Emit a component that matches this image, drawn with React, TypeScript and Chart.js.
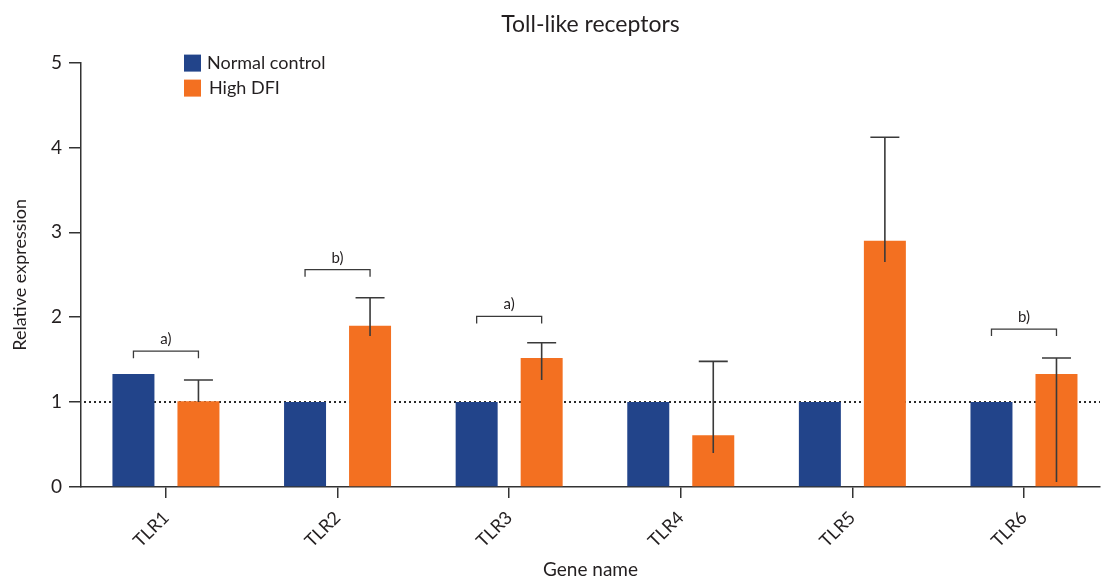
import React, { useEffect, useRef } from 'react';
import { Chart, registerables } from 'chart.js';

Chart.register(...registerables);

const CATEGORIES = ['TLR1', 'TLR2', 'TLR3', 'TLR4', 'TLR5', 'TLR6'];
const SERIES_LABELS = ['Normal control', 'High DFI'];
const NORMAL_CONTROL = [1.33, 1.0, 1.0, 1.0, 1.0, 1.0];
const HIGH_DFI = [1.01, 1.9, 1.52, 0.61, 2.9, 1.33];
const HIGH_DFI_ERR_HIGH = [1.26, 2.23, 1.7, 1.48, 4.12, 1.52];
const HIGH_DFI_ERR_LOW = [1.0, 1.78, 1.26, 0.4, 2.65, 0.06];
const SIG_CATEGORIES = ['TLR1', 'TLR2', 'TLR3', 'TLR6'];
const SIG_LEVELS = [1.6, 2.56, 2.01, 1.86];
const SIG_LABELS = ['a)', 'b)', 'a)', 'b)'];
const Y_TICKS = [0, 1, 2, 3, 4, 5];
const REFERENCE_LEVEL = 1;

const BLUE = '#22448a';
const ORANGE = '#f37021';
const INK = '#231f20';
const AXIS = '#333333';
const FONT = 'Lato';

const overlayPlugin = {
  id: 'overlay',
  beforeDatasetsDraw(chart: any) {
    const { ctx, chartArea, scales } = chart;
    const py = scales.y.getPixelForValue(REFERENCE_LEVEL);
    ctx.save();
    ctx.strokeStyle = '#2a2a2a';
    ctx.lineWidth = 2;
    ctx.setLineDash([2, 3]);
    ctx.beginPath();
    ctx.moveTo(chartArea.left + 3, py);
    ctx.lineTo(chartArea.right, py);
    ctx.stroke();
    ctx.restore();
  },
  afterDatasetsDraw(chart: any) {
    const { ctx, chartArea, scales } = chart;
    const y = scales.y;
    const m0 = chart.getDatasetMeta(0);
    const m1 = chart.getDatasetMeta(1);
    ctx.save();
    ctx.strokeStyle = '#3a3a3a';
    ctx.lineWidth = 1.6;
    m1.data.forEach((bar: any, i: number) => {
      const cx = bar.x;
      const top = y.getPixelForValue(HIGH_DFI_ERR_HIGH[i]);
      const bot = y.getPixelForValue(HIGH_DFI_ERR_LOW[i]);
      ctx.beginPath();
      ctx.moveTo(cx, bot);
      ctx.lineTo(cx, top);
      ctx.moveTo(cx - 14.5, top);
      ctx.lineTo(cx + 14.5, top);
      ctx.stroke();
    });
    ctx.lineWidth = 1.3;
    ctx.fillStyle = INK;
    ctx.font = `15px ${FONT}`;
    ctx.textAlign = 'center';
    ctx.textBaseline = 'middle';
    SIG_CATEGORIES.forEach((cat, k) => {
      const i = CATEGORIES.indexOf(cat);
      const x0 = m0.data[i].x;
      const x1 = m1.data[i].x;
      const py = y.getPixelForValue(SIG_LEVELS[k]);
      ctx.beginPath();
      ctx.moveTo(x0, py + 7);
      ctx.lineTo(x0, py);
      ctx.lineTo(x1, py);
      ctx.lineTo(x1, py + 7);
      ctx.stroke();
      ctx.fillText(SIG_LABELS[k], (x0 + x1) / 2, py - 12);
    });
    // legend
    const colors = [BLUE, ORANGE];
    ctx.font = `18px ${FONT}`;
    ctx.textAlign = 'left';
    SERIES_LABELS.forEach((label, k) => {
      const bx = chartArea.left + 103;
      const by = chartArea.top - 8 + k * 25;
      ctx.fillStyle = colors[k];
      ctx.fillRect(bx, by, 17, 17);
      ctx.fillStyle = INK;
      ctx.fillText(label, bx + 23 + k * 2, by + 9);
    });
    ctx.restore();
  },
};

export default function App() {
  const ref = useRef<HTMLCanvasElement | null>(null);
  useEffect(() => {
    if (!ref.current) return;
    const chart = new Chart(ref.current, {
      type: 'bar',
      data: {
        datasets: [
          {
            label: SERIES_LABELS[0],
            data: NORMAL_CONTROL.map((v, i) => ({ x: i + 1, y: v })),
            backgroundColor: BLUE,
          },
          {
            label: SERIES_LABELS[1],
            data: HIGH_DFI.map((v, i) => ({ x: i + 1, y: v })),
            backgroundColor: ORANGE,
          },
        ],
      },
      options: {
        responsive: false,
        animation: false,
        layout: { padding: { left: 0, right: 5, top: 0, bottom: 0 } },
        datasets: {
          bar: { categoryPercentage: 0.7576, barPercentage: 0.646 },
        },
        plugins: {
          legend: { display: false },
          tooltip: { enabled: false },
          title: {
            display: true,
            text: 'Toll-like receptors',
            fullSize: false,
            color: INK,
            font: { family: FONT, size: 23, weight: 'normal' },
            padding: { top: 11, bottom: 24 },
          },
        },
        scales: {
          x: {
            type: 'linear',
            offset: false,
            min: 0.505,
            max: 6.443,
            afterBuildTicks: (scale: any) => {
              scale.ticks = CATEGORIES.map((_, i) => ({ value: i + 1 }));
            },
            afterFit: (scale: any) => {
              scale.height = 94;
            },
            ticks: {
              autoSkip: false,
              minRotation: 45,
              maxRotation: 45,
              padding: 9,
              color: INK,
              font: { family: FONT, size: 18 },
              callback: (v: any) => CATEGORIES[Math.round(Number(v)) - 1] ?? '',
            },
            grid: {
              display: true,
              offset: false,
              drawOnChartArea: false,
              drawTicks: true,
              tickLength: 11,
              color: AXIS,
              lineWidth: 1.5,
            },
            border: { display: true, color: AXIS, width: 1.5 },
            title: {
              display: true,
              text: 'Gene name',
              color: INK,
              font: { family: FONT, size: 19 },
              padding: { top: 0, bottom: 0 },
            },
          },
          y: {
            min: 0,
            max: 5,
            afterBuildTicks: (scale: any) => {
              scale.ticks = Y_TICKS.map((v) => ({ value: v }));
            },
            afterFit: (scale: any) => {
              scale.width = 81;
            },
            ticks: {
              padding: 7,
              color: INK,
              font: { family: FONT, size: 19 },
            },
            grid: {
              display: true,
              drawOnChartArea: false,
              drawTicks: true,
              tickLength: 12,
              color: AXIS,
              lineWidth: 1.5,
            },
            border: { display: true, color: AXIS, width: 1.5 },
            title: {
              display: true,
              text: 'Relative expression',
              color: INK,
              font: { family: FONT, size: 18 },
              padding: { top: 9, bottom: 0 },
            },
          },
        },
      },
      plugins: [overlayPlugin],
    } as any);
    return () => chart.destroy();
  }, []);
  return (
    <div style={{ position: 'absolute', left: 0, top: 0, width: 1105, height: 581 }}>
      <canvas ref={ref} width={1105} height={581} style={{ display: 'block' }} />
    </div>
  );
}
